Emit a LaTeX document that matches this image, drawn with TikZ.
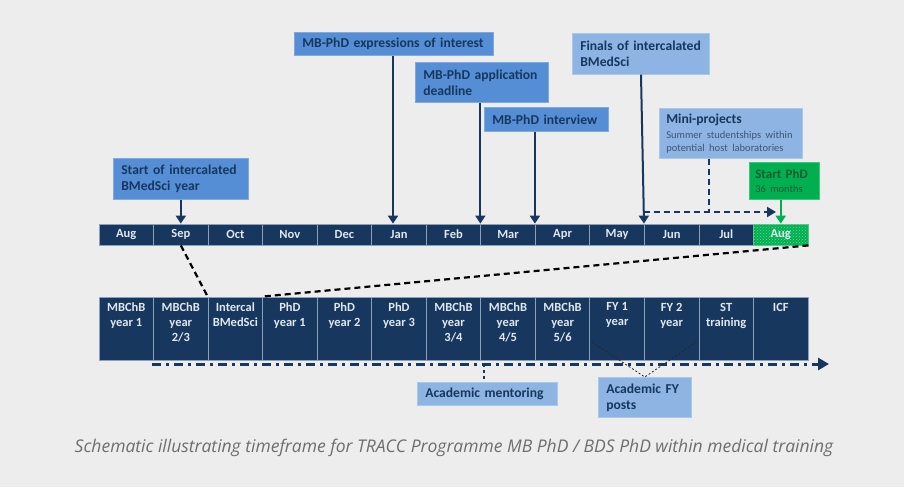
\documentclass[tikz,border=0pt]{standalone}
\usepackage{fontspec}
\setmainfont{Carlito}
\newfontfamily\capfont{Open Sans}
\usetikzlibrary{arrows.meta,patterns,calc}
\definecolor{bg}{RGB}{237,237,237}
\definecolor{navy}{RGB}{23,55,94}
\definecolor{cellline}{RGB}{140,160,185}
\definecolor{celltxt}{RGB}{225,231,238}
\definecolor{midblue}{RGB}{85,142,213}
\definecolor{litblue}{RGB}{141,180,226}
\definecolor{boxtext}{RGB}{23,55,94}
\definecolor{subtext}{RGB}{63,85,115}
\definecolor{pgreen}{RGB}{0,176,80}
\definecolor{gtext}{RGB}{25,90,50}
\definecolor{captext}{RGB}{110,110,110}
\tikzset{
  month/.style={draw=cellline, fill=navy, text=celltxt, line width=0.8pt,
    minimum width=54.54pt, minimum height=21pt, inner sep=0pt,
    font=\bfseries\fontsize{12.5}{14}\selectfont},
  cellbox/.style={draw=cellline, fill=navy, line width=0.8pt,
    minimum width=54.54pt, minimum height=63pt, inner sep=0pt},
  celltext/.style={anchor=north, align=center, inner sep=0pt, text=celltxt,
    font=\bfseries\fontsize{12.5}{15}\selectfont},
  tbox/.style={anchor=north west, fill=midblue, draw=midblue!75!white, line width=0.6pt,
    inner xsep=8pt, inner ysep=0pt, align=left, text=boxtext,
    font=\bfseries\fontsize{13.6}{16}\selectfont},
  lbox/.style={tbox, fill=litblue, draw=litblue!75!white},
  arr/.style={draw=navy, line width=2pt, -{Triangle[width=10pt,length=8pt]}},
  garr/.style={draw=pgreen, line width=2pt, -{Triangle[width=10pt,length=8pt]}},
  darr/.style={draw=navy, line width=2pt, dash pattern=on 6pt off 4pt, -{Triangle[width=10pt,length=9pt]}},
  bdash/.style={draw=black, line width=2.2pt, dash pattern=on 6pt off 4pt},
  ddot/.style={draw=navy, line width=3pt, dash pattern=on 9pt off 5pt on 3pt off 5pt, -{Triangle[width=12pt,length=11pt]}},
  thindash/.style={draw=black!85, line width=0.8pt, dash pattern=on 2pt off 2pt},
}
\begin{document}
\begin{tikzpicture}[x=1pt,y=-1pt]
\fill[bg] (0,0) rectangle (904,487);
\useasboundingbox (0,0) rectangle (904,487);

% month row
\foreach \i/\t in {0/Aug,1/Sep,2/Oct,3/Nov,4/Dec,5/Jan,6/Feb,7/Mar,8/Apr,9/May,10/Jun,11/Jul}
  \node[month] (m\i) at ({99+54.54*(\i+0.5)},234.5) {\t};
\node[month, fill=pgreen, postaction={pattern=crosshatch dots, pattern color=white!45!pgreen}, draw=pgreen!70!white]
  (m12) at ({99+54.54*12.5},234.5) {Aug};

% lower row
\foreach \i/\t in {0/{MBChB\\year 1},1/{MBChB\\year\\2/3},2/{Intercal\\BMedSci},3/{PhD\\year 1},
  4/{PhD\\year 2},5/{PhD\\year 3},6/{MBChB\\year\\3/4},7/{MBChB\\year\\4/5},8/{MBChB\\year\\5/6},
  9/{FY 1\\year},10/{FY 2\\year},11/{ST\\training},12/{ICF}}{
  \node[cellbox] (c\i) at ({99+54.54*(\i+0.5)},328.5) {};
  \node[celltext] (ct\i) at ($(c\i.north)+(0,6)$) {\t};
}

% top boxes
\node[tbox, text width=119pt, minimum height=41pt] (startbox) at (113,158) {Start of intercalated\\BMedSci year};
\node[tbox, text width=183pt, minimum height=23pt] (expr) at (294,32) {MB-PhD expressions of interest};
\node[tbox, text width=117pt, minimum height=40pt] (appl) at (415,62) {MB-PhD application\\deadline};
\node[tbox, text width=108pt, minimum height=24pt] (intv) at (484,107) {MB-PhD interview};
\node[lbox, text width=121pt, minimum height=41pt] (finals) at (572,33) {Finals of intercalated\\BMedSci};
\node[lbox, inner xsep=7pt, text width=129pt, minimum height=50pt] (mini) at (659,108)
  {Mini-projects\\[-1pt]{\mdseries\color{subtext}\fontsize{10.5}{13}\selectfont Summer studentships within}\\[-3pt]
   {\mdseries\color{subtext}\fontsize{10.5}{13}\selectfont potential host laboratories}};
\node[tbox, fill=pgreen, draw=pgreen!75!white, text=gtext, inner xsep=6pt, text width=58pt, minimum height=37pt,
  font=\bfseries\fontsize{13}{16}\selectfont] (startphd) at (749,162)
  {Start PhD\\[-2pt]{\mdseries\fontsize{10.5}{13}\selectfont 36 months}};

% bottom boxes
\node[lbox, text width=124pt, minimum height=23pt] (ment) at (417,382) {Academic mentoring};
\node[lbox, text width=77pt, minimum height=40pt] (fy) at (598,377) {Academic FY\\posts};

% arrows to months
\coordinate (xjan) at (393,0);
\coordinate (xfin) at (641,0);
\coordinate (xmini) at (709,0);
\draw[arr] (startbox.south -| m1.center) -- (m1.north);
\draw[arr] (expr.south -| xjan) -- (m5.north -| xjan);
\draw[arr] (appl.south -| m7.west) -- (m7.north west);
\draw[arr] (intv.south -| m8.west) -- (m8.north west);
\draw[arr] (finals.south -| xfin) -- (m10.north west);
\draw[garr] (startphd.south -| m12.center) -- (m12.north);

% dashed mini-project arrow
\coordinate (dstart) at (644,212);
\coordinate (dend) at (776,212);
\draw[darr] (dstart) -- (dend);
\draw[draw=navy, line width=2pt, dash pattern=on 6pt off 4pt] (mini.south -| xmini) -- (dstart -| xmini);

% zoom lines
\draw[bdash] (m1.south) -- (c2.north west);
\draw[bdash] (m12.south east) -- (c3.north west);

% dash-dot timeline
\coordinate (dd0) at (152,364);
\coordinate (dd1) at (829,364);
\draw[ddot] (dd0) -- (dd1);
\coordinate (xment) at (484,0);
\draw[navy, line width=1.2pt, dashed] (dd0 -| xment) -- (ment.north -| xment);

% FY V lines
\coordinate (fyl) at (592,342);
\coordinate (fyr) at (698,341);
\draw[thindash] (fyl) -- (fy.north) -- (fyr);

% caption
\node[font=\capfont\itshape\fontsize{17.5}{20}\selectfont, text=captext, inner sep=0pt] (cap) at (454,448)
  {Schematic illustrating timeframe for TRACC Programme MB PhD / BDS PhD within medical training};
\end{tikzpicture}
\end{document}
